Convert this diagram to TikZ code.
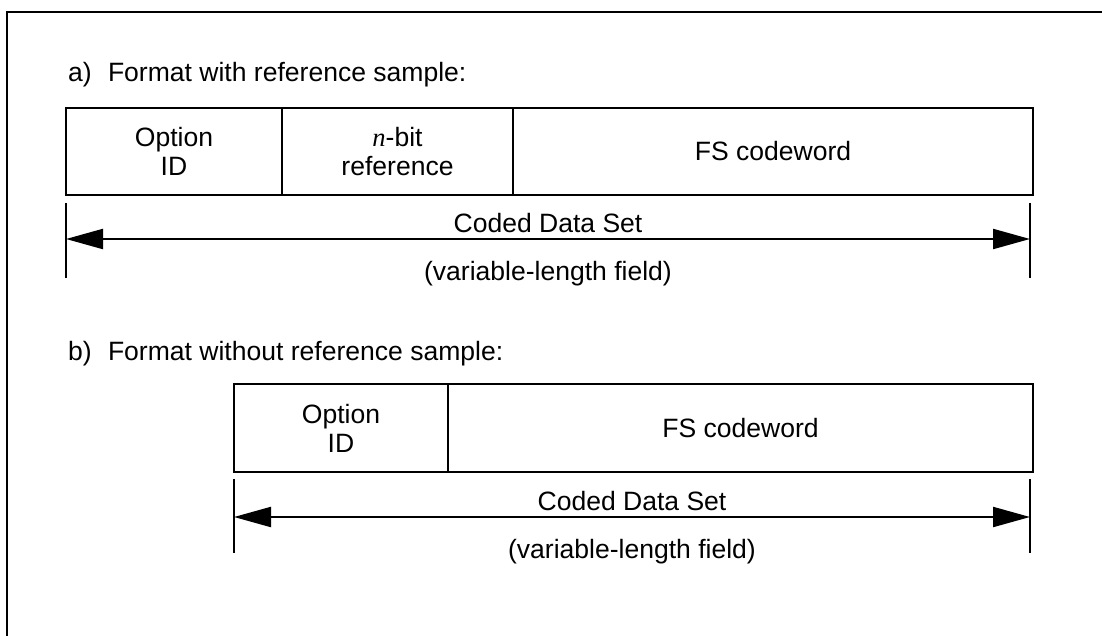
\documentclass[tikz,border=0pt]{standalone}
\usepackage{fontspec}
\setmainfont{Liberation Sans}
\newfontfamily\nserif{Liberation Serif}
\usetikzlibrary{arrows.meta}
\begin{document}
\begin{tikzpicture}[x=0.75pt,y=-0.75pt,
  every node/.style={font=\fontsize{19.9}{21.75}\selectfont, inner sep=0pt, outer sep=0pt, text=black},
  cell/.style={draw, line width=1.65pt, align=center},
  rowa/.style={cell, minimum height=65.25pt},
  rowb/.style={cell, minimum height=66pt},
  lbl/.style={anchor=base},
  head/.style={anchor=base west},
  tickline/.style={line width=1.6pt},
  dimline/.style={line width=1.6pt, {Triangle[length=27.75pt,width=15pt]}-{Triangle[length=27.75pt,width=15pt]}},
  frame/.style={line width=2pt}
]
\useasboundingbox (0,0) rectangle (1102,635);
\clip (0,0) rectangle (1102,635);
\draw[frame] (7,12) rectangle (1130,670);

% ---- a) ----
\node[head] (ha) at (68,82) {a)\hspace{0.62em}Format with reference sample:};
\node[rowa, minimum width=162pt] (a1) at (174,151.5) {Option\\ID};
\node[rowa, minimum width=173.25pt] (a2) at (397.5,151.5) {{\nserif\itshape n}-bit\\reference};
\node[rowa, minimum width=390pt] (a3) at (773,151.5) {FS codeword};

\coordinate (aLt) at (66,203);
\coordinate (aLb) at (66,278);
\coordinate (aL) at (66,239);
\coordinate (aRt) at (1030,203);
\coordinate (aRb) at (1030,278);
\coordinate (aR) at (1030,239);
\draw[tickline] (aLt) -- (aLb);
\draw[tickline] (aRt) -- (aRb);
\draw[dimline] (aL) -- (aR);
\node[lbl] (ca) at (548,232) {Coded Data Set};
\node[lbl] (va) at (548,280) {(variable-length field)};

% ---- b) ----
\node[head] (hb) at (68,360) {b)\hspace{0.62em}Format without reference sample:};
\node[rowb, minimum width=160.5pt] (b1) at (341,428) {Option\\ID};
\node[rowb, minimum width=438.75pt] (b2) at (740.5,428) {FS codeword};

\coordinate (bLt) at (234,479);
\coordinate (bLb) at (234,553);
\coordinate (bL) at (234,517);
\coordinate (bRt) at (1030,479);
\coordinate (bRb) at (1030,553);
\coordinate (bR) at (1030,517);
\draw[tickline] (bLt) -- (bLb);
\draw[tickline] (bRt) -- (bRb);
\draw[dimline] (bL) -- (bR);
\node[lbl] (cb) at (632,510) {Coded Data Set};
\node[lbl] (vb) at (632,558) {(variable-length field)};
\end{tikzpicture}
\end{document}
